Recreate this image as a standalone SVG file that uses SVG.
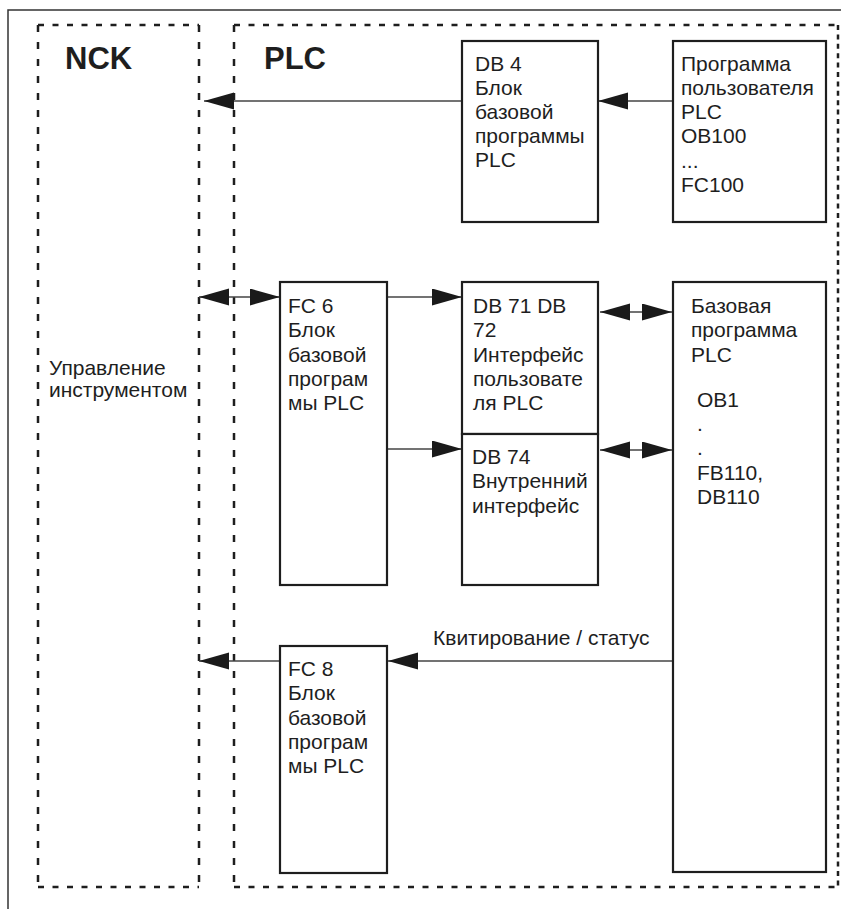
<svg xmlns="http://www.w3.org/2000/svg" width="841" height="909" viewBox="0 0 841 909">
<style>
.t{font-family:"Liberation Sans",Arial,sans-serif;font-size:20px;fill:#1e1e1e}
.h{font-family:"Liberation Sans",Arial,sans-serif;font-size:31px;font-weight:bold;fill:#1e1e1e}
.box{fill:#fff;stroke:#1e1e1e;stroke-width:2.2}
.dh{stroke:#1e1e1e;stroke-width:2.5;stroke-dasharray:6 8.5;fill:none}
.dv{stroke:#1e1e1e;stroke-width:2.5;stroke-dasharray:7 10;fill:none}
.dr{stroke:#1e1e1e;stroke-width:2.5;stroke-dasharray:5 4.4;fill:none}
.c{stroke:#444;stroke-width:1.4;fill:none}
.c1{marker-end:url(#ah)}
.c2{marker-start:url(#ah);marker-end:url(#ah)}
</style>
<defs>
<marker id="ah" markerUnits="userSpaceOnUse" markerWidth="31" markerHeight="18" refX="30" refY="8.5" orient="auto-start-reverse" viewBox="0 0 31 18">
<path d="M0,0 L30,8.5 L0,17 z" fill="#1a1a1a"/>
</marker>
</defs>
<rect width="841" height="909" fill="#fff"/>
<g id="frame">
<path d="M8,909 V10 H841" stroke="#333" stroke-width="1.5" fill="none"/>
</g>
<g id="nck">
<path class="dh" d="M38,25 H199"/>
<path class="dh" d="M38,887 H199"/>
<path class="dv" d="M38,25 V887"/>
<path class="dv" d="M199,25 V887"/>
<text class="h" x="65" y="69">NCK</text>
<text class="t" transform="translate(49,0) scale(1.05,1)"><tspan x="0" y="375">Управление</tspan><tspan x="0" y="397.5">инструментом</tspan></text>
</g>
<g id="plc">
<path class="dh" d="M234,25 H838"/>
<path class="dh" d="M234,887 H838"/>
<path class="dv" d="M234,25 V887"/>
<path class="dr" d="M838,25 V887"/>
<text class="h" x="264" y="69">PLC</text>
</g>
<g id="connectors">
<line class="c c1" x1="673" y1="101" x2="598" y2="101"/>
<line class="c c1" x1="462" y1="101" x2="204" y2="101"/>
<line class="c c2" x1="199" y1="297" x2="280" y2="297"/>
<line class="c c1" x1="387" y1="297" x2="462" y2="297"/>
<line class="c c1" x1="387" y1="449" x2="462" y2="449"/>
<line class="c c2" x1="600" y1="312" x2="672" y2="312"/>
<line class="c c2" x1="600" y1="450" x2="672" y2="450"/>
<line class="c c1" x1="673" y1="661" x2="388" y2="661"/>
<line class="c c1" x1="280" y1="661" x2="199" y2="661"/>
<text class="t" transform="translate(433,0) scale(1.05,1)" x="0" y="645">Квитирование / статус</text>
</g>
<g id="db4">
<rect class="box" x="462" y="41" width="136" height="181"/>
<text class="t" transform="translate(475,0) scale(1.05,1)"><tspan x="0" y="70.7">DB 4</tspan><tspan x="0" y="94.9">Блок</tspan><tspan x="0" y="119.1">базовой</tspan><tspan x="0" y="143.3">программы</tspan><tspan x="0" y="167.5">PLC</tspan></text>
</g>
<g id="userprog">
<rect class="box" x="673" y="41" width="153" height="181"/>
<text class="t" transform="translate(681,0) scale(1.05,1)"><tspan x="0" y="71">Программа</tspan><tspan x="0" y="95">пользователя</tspan><tspan x="0" y="119">PLC</tspan><tspan x="0" y="143.5">OB100</tspan><tspan x="0" y="168">...</tspan><tspan x="0" y="192.5">FC100</tspan></text>
</g>
<g id="fc6">
<rect class="box" x="280" y="282" width="107" height="303"/>
<text class="t" transform="translate(288,0) scale(1.05,1)"><tspan x="0" y="313">FC 6</tspan><tspan x="0" y="337.3">Блок</tspan><tspan x="0" y="361.6">базовой</tspan><tspan x="0" y="385.9">програм</tspan><tspan x="0" y="410.2">мы PLC</tspan></text>
</g>
<g id="db7172">
<rect class="box" x="462" y="282" width="136" height="152"/>
<text class="t" transform="translate(473,0) scale(1.05,1)"><tspan x="0" y="313">DB 71 DB</tspan><tspan x="0" y="337.3">72</tspan><tspan x="0" y="361.6">Интерфейс</tspan><tspan x="0" y="385.9">пользовате</tspan><tspan x="0" y="410.2">ля PLC</tspan></text>
</g>
<g id="db74">
<rect class="box" x="462" y="434" width="136" height="151"/>
<text class="t" transform="translate(472,0) scale(1.05,1)"><tspan x="0" y="464">DB 74</tspan><tspan x="0" y="488.3">Внутренний</tspan><tspan x="0" y="512.6">интерфейс</tspan></text>
</g>
<g id="base">
<rect class="box" x="673" y="282" width="153" height="590"/>
<text class="t" transform="translate(691,0) scale(1.05,1)"><tspan x="0" y="313">Базовая</tspan><tspan x="0" y="337.3">программа</tspan><tspan x="0" y="361.6">PLC</tspan></text>
<text class="t" transform="translate(697,0) scale(1.05,1)"><tspan x="0" y="407">OB1</tspan><tspan x="0" y="431">.</tspan><tspan x="0" y="455">.</tspan><tspan x="0" y="480">FB110,</tspan><tspan x="0" y="504">DB110</tspan></text>
</g>
<g id="fc8">
<rect class="box" x="280" y="646" width="107" height="227"/>
<text class="t" transform="translate(288,0) scale(1.05,1)"><tspan x="0" y="676">FC 8</tspan><tspan x="0" y="700.3">Блок</tspan><tspan x="0" y="724.6">базовой</tspan><tspan x="0" y="748.9">програм</tspan><tspan x="0" y="773.2">мы PLC</tspan></text>
</g>
</svg>
